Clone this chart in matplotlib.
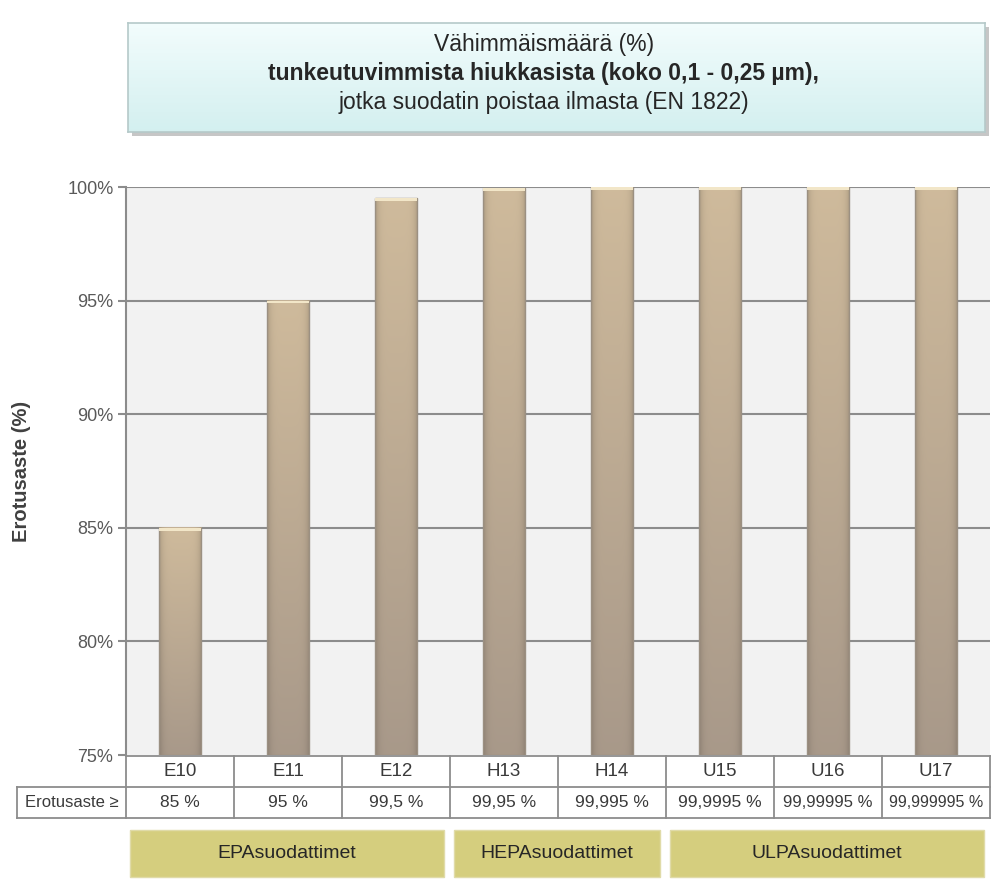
import numpy as np
import matplotlib.pyplot as plt
from matplotlib.patches import Rectangle

plt.rcParams['font.family'] = ['Liberation Sans', 'DejaVu Sans']

classes = ["E10", "E11", "E12", "H13", "H14", "U15", "U16", "U17"]
efficiency = [85, 95, 99.5, 99.95, 99.995, 99.9995, 99.99995, 99.999995]
efficiency_labels = ["85 %", "95 %", "99,5 %", "99,95 %", "99,995 %",
                     "99,9995 %", "99,99995 %", "99,999995 %"]
groups = ["EPAsuodattimet", "HEPAsuodattimet", "ULPAsuodattimet"]
group_first = [0, 3, 5]
group_last = [2, 4, 7]
yticks = [75, 80, 85, 90, 95, 100]
ytick_labels = ["75%", "80%", "85%", "90%", "95%", "100%"]
row_label = "Erotusaste \u2265"
ylabel = "Erotusaste (%)"

W, H = 992, 880
fig = plt.figure(figsize=(W / 100, H / 100), dpi=100)


def px_axes(x0, y0, x1, y1):
    return fig.add_axes([x0 / W, 1 - y1 / H, (x1 - x0) / W, (y1 - y0) / H])


grey_txt = "#595959"
line_col = "#8c8c8c"

# ---- title box with a soft drop shadow ----
shadow = Rectangle(((128 + 4) / W, 1 - (132 + 4) / H), (985 - 128) / W, (132 - 23) / H,
                   transform=fig.transFigure, facecolor="#a0a0a0", alpha=0.6,
                   edgecolor="none", zorder=0.2)
fig.patches.append(shadow)
tax = px_axes(128, 23, 985, 132)
tax.set_zorder(1)
grad = np.linspace(0, 1, 64)[:, None]
top_c = np.array([0.95, 0.99, 0.99])
bot_c = np.array([0.83, 0.94, 0.94])
img = top_c[None, None, :] * (1 - grad[..., None]) + bot_c[None, None, :] * grad[..., None]
tax.imshow(img, extent=(0, 1, 0, 1), aspect="auto", interpolation="bicubic")
tax.set_xlim(0, 1)
tax.set_ylim(0, 1)
tax.set_xticks([])
tax.set_yticks([])
for s in tax.spines.values():
    s.set_color("#b5c9c9")
    s.set_linewidth(1.2)
tcx = (544 - 128) / (985 - 128)
tax.text(tcx, 0.80, "Vähimmäismäärä (%)", ha="center", va="center", fontsize=16.5,
         color="#262626")
tax.text(tcx, 0.535, "tunkeutuvimmista hiukkasista (koko 0,1 - 0,25 µm),", ha="center",
         va="center", fontsize=16.5, fontweight="bold", color="#262626")
tax.text(tcx, 0.27, "jotka suodatin poistaa ilmasta (EN 1822)", ha="center", va="center",
         fontsize=16.5, color="#262626")

# ---- main bar chart ----
ax = px_axes(126, 187, 990, 755)
x = np.arange(len(classes))
ax.set_facecolor("#f2f2f2")
ax.set_yticks(yticks)
ax.set_yticklabels(ytick_labels)
ax.set_xticks([])
ax.tick_params(axis="y", length=6, width=1.5, color=line_col, labelsize=13,
               labelcolor=grey_txt, pad=3)
for y in yticks[1:]:
    ax.axhline(y, color=line_col, lw=1.5, zorder=1)
for name in ["top", "right", "bottom"]:
    ax.spines[name].set_visible(False)
ax.spines["left"].set_color(line_col)
ax.spines["left"].set_linewidth(1.5)
ax.set_ylabel(ylabel, fontsize=14.5, fontweight="bold", color="#404040", labelpad=26)

bar_w = 0.39
top_bar = np.array([0.81, 0.73, 0.61])
bot_bar = np.array([0.66, 0.60, 0.54])
t = np.linspace(0, 1, 100)[:, None, None]
u = np.linspace(-1, 1, 40)
shade = (1 - 0.16 * np.abs(u) ** 6)[None, :, None]
bar_img = np.clip((top_bar * (1 - t) + bot_bar * t) * shade, 0, 1)
for xi, v in zip(x, efficiency):
    ax.imshow(bar_img, extent=(xi - bar_w / 2, xi + bar_w / 2, 75, v), aspect="auto",
              interpolation="bicubic", zorder=2)
    ax.add_patch(Rectangle((xi - bar_w / 2, 75), bar_w, v - 75, facecolor="none",
                           edgecolor="#9b9082", lw=1.0, zorder=3))
    # light cap at the top of each bar
    ax.add_patch(Rectangle((xi - bar_w / 2, v - 0.12), bar_w, 0.12, facecolor="#f2e6c8",
                           edgecolor="none", zorder=3))
ax.set_xlim(-0.5, len(classes) - 0.5)
ax.set_ylim(75, 100)

# ---- data table under the bars ----
tab = px_axes(126, 756, 990, 818)
tab.set_xlim(-0.5, len(classes) - 0.5)
tab.set_ylim(0, 2)
tab.axis("off")
left = -0.5 - 109 / 108
kw = dict(color="#8c8c8c", lw=1.3, clip_on=False)
tab.plot([-0.5, 7.5], [2, 2], **kw)
tab.plot([left, 7.5], [1, 1], **kw)
tab.plot([left, 7.5], [0, 0], **kw)
tab.plot([left, left], [0, 1], **kw)
for b in np.arange(-0.5, 8.0, 1.0):
    tab.plot([b, b], [0, 2], **kw)
for xi, c, lab in zip(x, classes, efficiency_labels):
    tab.text(xi, 1.5, c, ha="center", va="center", fontsize=13.5, color="#3a3a3a")
    size = 12.5 if len(lab) < 10 else (12 if len(lab) < 11 else 11.5)
    tab.text(xi, 0.5, lab, ha="center", va="center", fontsize=size, color="#3a3a3a")
tab.text((left - 0.5) / 2, 0.5, row_label, ha="center", va="center", fontsize=12,
         color="#3a3a3a", clip_on=False)

# ---- filter group labels ----
gax = px_axes(126, 830, 990, 877)
gax.set_xlim(-0.5, len(classes) - 0.5)
gax.set_ylim(0, 1)
gax.axis("off")
for name, a, b in zip(groups, group_first, group_last):
    x0 = a - 0.46
    x1 = b + 0.44
    gax.add_patch(Rectangle((x0, 0), x1 - x0, 1, facecolor="#d5ce7e", edgecolor="#e0dba8",
                            lw=1.0, clip_on=False))
    gax.text((x0 + x1) / 2, 0.5, name, ha="center", va="center", fontsize=14,
             color="#262626")

fig.savefig("out.png", dpi=100)
